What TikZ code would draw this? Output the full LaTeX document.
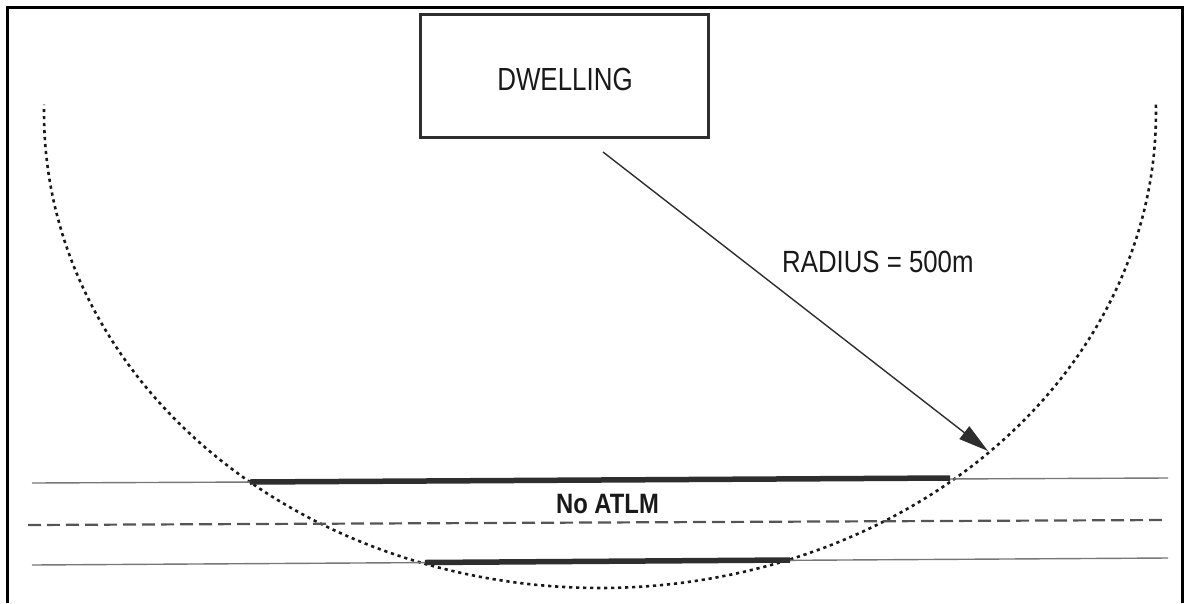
\documentclass[tikz,border=0pt]{standalone}
\usepackage{fontspec}
\setmainfont{Liberation Sans}
\usetikzlibrary{arrows.meta}

\definecolor{inkdark}{HTML}{2E2E2E}
\definecolor{inkmid}{HTML}{555555}
\definecolor{inklight}{HTML}{777777}

\tikzset{
  frameline/.style={line width=3pt, black},
  housebox/.style={draw=inkdark, line width=3pt, minimum width=288pt, minimum height=123pt,
                   inner sep=0pt},
  rangecurve/.style={line width=2.6pt, black!90, dash pattern=on 3.2pt off 3.8pt},
  roadedge/.style={line width=1.4pt, inklight},
  roadcentre/.style={line width=2.2pt, inkmid, dash pattern=on 13pt off 6pt},
  bannedrun/.style={line width=5.5pt, inkdark},
  radiusarrow/.style={line width=1.4pt, inkdark, -{Triangle[length=30pt,width=16pt]}},
  label/.style={inner sep=0pt, anchor=base, text=black!90}
}

\begin{document}
\begin{tikzpicture}[x=1pt,y=-1pt]
  \useasboundingbox (0,0) rectangle (1189,603);

  % open frame (no bottom edge)
  \draw[frameline] (7,603) -- (7,7) -- (1182,7) -- (1182,603);

  % dwelling
  \node[housebox] (dwelling) at (564,75.5) {};
  \node[label] (dwellingtext) at (565,90) {\fontsize{32}{36}\selectfont\scalebox{0.81}[1]{DWELLING}};

  % 500 m range around the dwelling
  \draw[rangecurve] plot[domain=-1:181, samples=240] ({600+556*cos(\x)},{113+475*sin(\x)});

  % road: edges, centre line and the sections inside the range
  \coordinate (topL) at (32,483);
  \coordinate (topR) at (1168,478);
  \coordinate (midL) at (28,525);
  \coordinate (midR) at (1167,520);
  \coordinate (botL) at (32,565);
  \coordinate (botR) at (1168,558);
  \draw[roadedge] (topL) -- (topR);
  \draw[roadcentre] (midL) -- (midR);
  \draw[roadedge] (botL) -- (botR);

  \coordinate (topInL) at (250,482);
  \coordinate (topInR) at (950,478);
  \coordinate (botInL) at (425,562.5);
  \coordinate (botInR) at (790,560);
  \draw[bannedrun] (topInL) -- (topInR);
  \draw[bannedrun] (botInL) -- (botInR);

  \node[label] (noatlm) at (607.5,513) {\fontsize{28}{32}\selectfont\bfseries\scalebox{0.85}[1]{No ATLM}};

  % radius
  \coordinate (radStart) at (603,152);
  \coordinate (radTip) at (988,451);
  \draw[radiusarrow] (radStart) -- (radTip);
  \node[label, anchor=base west] (radiustext) at (782,272) {\fontsize{30.7}{34}\selectfont\scalebox{0.84}[1]{RADIUS = 500m}};
\end{tikzpicture}
\end{document}
